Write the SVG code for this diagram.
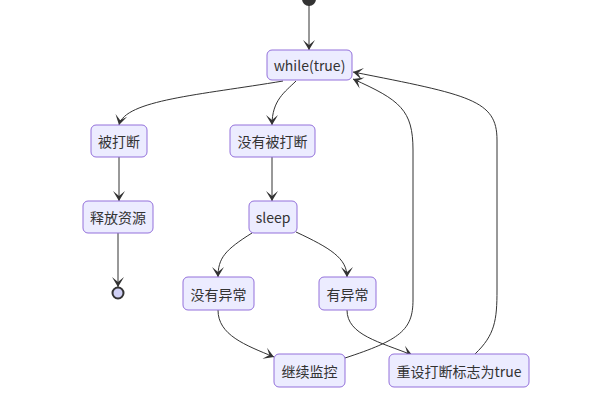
<svg xmlns="http://www.w3.org/2000/svg" width="600" height="400" viewBox="0 0 600 400">
<style>
.n rect{fill:#ECECFF;stroke:#9370DB;stroke-width:1}
.n text{font-family:"Noto Sans CJK SC","Noto Sans",sans-serif;font-size:14px;fill:#333;text-anchor:middle;dominant-baseline:central}
.e path{fill:none;stroke:#333;stroke-width:1}
</style>
<defs>
<marker id="a" viewBox="0 0 20 14" refX="19" refY="7" markerWidth="20" markerHeight="14" markerUnits="userSpaceOnUse" orient="auto">
<path d="M19,7 L9,13 L14,7 L9,1 Z" fill="#333"/>
</marker>
</defs>
<rect width="600" height="400" fill="#fff"/>
<g class="e">
<path d="M309,5 L309,50" marker-end="url(#a)"/>
<path d="M283,81 C200,95 125,100 119,125" marker-end="url(#a)"/>
<path d="M296,81 C285,92 272,100 272,125" marker-end="url(#a)"/>
<path d="M119,157 L119,201" marker-end="url(#a)"/>
<path d="M272,157 L272,201" marker-end="url(#a)"/>
<path d="M118,233 L118,287" marker-end="url(#a)"/>
<path d="M252,233 C225,250 218,258 218,277" marker-end="url(#a)"/>
<path d="M296,232 C330,248 347,258 347,277" marker-end="url(#a)"/>
<path d="M218,310 C218,335 245,345 274,357" marker-end="url(#a)"/>
<path d="M347,310 C347,335 380,342 412,355" marker-end="url(#a)"/>
<path d="M345,358 C400,340 413,330 413,300 L413,150 C413,110 400,100 353,79" marker-end="url(#a)"/>
<path d="M475,354 C495,335 497,320 497,290 L497,140 C497,100 470,95 353,72" marker-end="url(#a)"/>
</g>
<g id="start"><circle cx="309" cy="-1" r="7" fill="#333"/></g>
<g id="end"><circle cx="118" cy="293" r="5.5" fill="#D0D0F5" stroke="#333" stroke-width="2"/></g>
<g id="while" class="n"><rect x="267" y="50" width="85" height="30" rx="5"/><text x="309.5" y="65">while(true)</text></g>
<g id="interrupted" class="n"><rect x="91" y="125" width="56" height="32" rx="5"/><text x="119" y="141">被打断</text></g>
<g id="notInterrupted" class="n"><rect x="230" y="125" width="85" height="32" rx="5"/><text x="272.5" y="141">没有被打断</text></g>
<g id="release" class="n"><rect x="83" y="201" width="70" height="32" rx="5"/><text x="118" y="217">释放资源</text></g>
<g id="sleep" class="n"><rect x="249" y="201" width="48" height="32" rx="5"/><text x="273" y="217">sleep</text></g>
<g id="noException" class="n"><rect x="183" y="277" width="71" height="33" rx="5"/><text x="218.5" y="293.5">没有异常</text></g>
<g id="exception" class="n"><rect x="319" y="277" width="57" height="33" rx="5"/><text x="347.5" y="293.5">有异常</text></g>
<g id="continue" class="n"><rect x="274" y="354" width="71" height="33" rx="5"/><text x="309.5" y="370.5">继续监控</text></g>
<g id="reset" class="n"><rect x="389" y="354" width="140" height="33" rx="5"/><text x="459" y="370.5">重设打断标志为true</text></g>
</svg>
